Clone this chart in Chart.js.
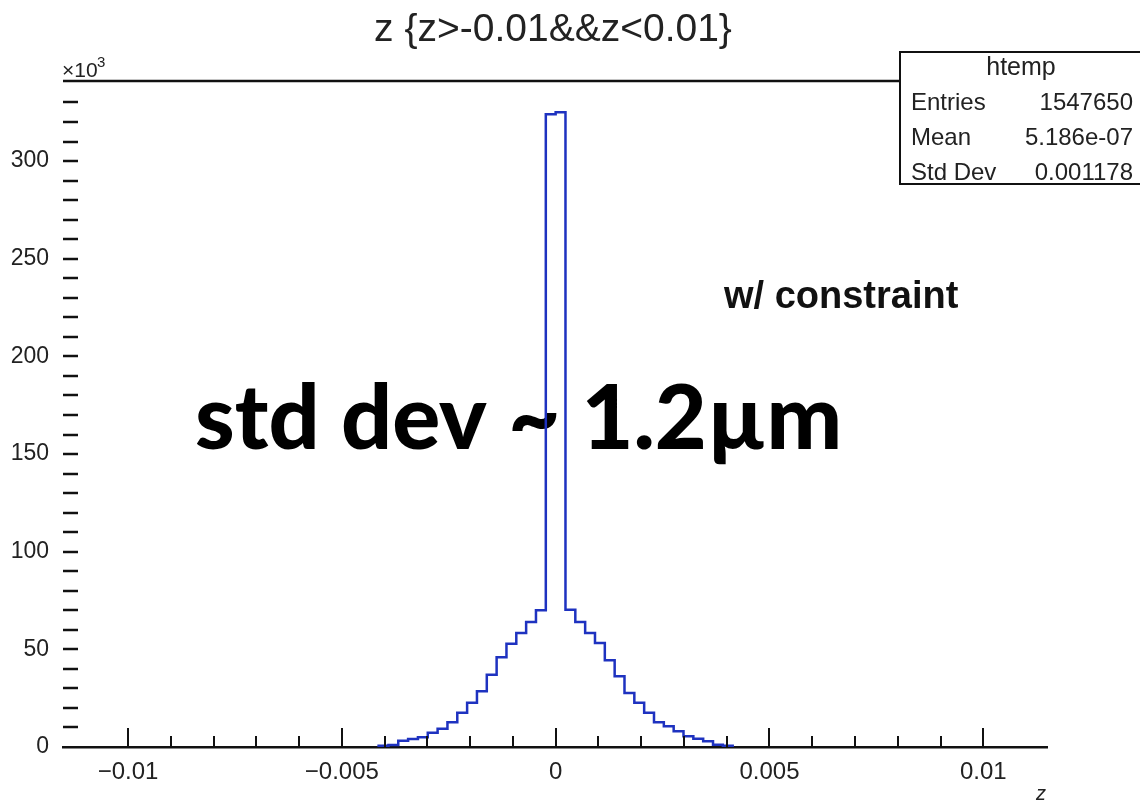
<!DOCTYPE html>
<html>
<head>
<meta charset="utf-8">
<script src="https://cdn.jsdelivr.net/npm/chart.js@4.4.1/dist/chart.umd.min.js"></script>
<style>
  html, body { margin: 0; padding: 0; background: #fff; }
</style>
</head>
<body>
<canvas id="myChart" width="1140" height="804"></canvas>
<script>
// histogram binning (z axis)
const X_MIN = -0.01152;
const X_MAX = 0.01149;
const BIN_WIDTH = 0.00023;
const FIRST_EDGE = -0.00414; // low edge of first non-empty bin

// bin contents, units of 10^3 entries, from FIRST_EDGE upward
const counts = [
  0.6, 1.0, 3.2, 4.1, 5.0, 7.3, 9.3, 12.7, 17.5, 22.6, 28.5, 37.0, 46.0, 52.9, 58.4, 64.0, 70.0, 324.0,
  325.0, 70.3, 64.0, 58.4, 53.3, 44.4, 36.2, 27.7, 22.6, 17.5, 12.7, 10.6, 8.1, 5.5, 4.2, 3.0, 1.2, 0.7,
];

const Y_MAX = 341;
const X_MAJOR = 0.005;
const X_MINOR = 0.001;
const Y_MAJOR = 50;
const Y_MINOR = 10;

const histTitle = "z {z>-0.01&&z<0.01}";
const statName = "htemp";
const statLabels = ["Entries", "Mean", "Std Dev"];
const statValues = ["1547650", "5.186e-07", "0.001178"];
const noteSmall = "w/ constraint";
const noteBig = "std dev ~ 1.2\u00b5m";

// outline of the histogram as step points
const points = [{ x: FIRST_EDGE, y: 0 }];
counts.forEach((c, i) => points.push({ x: FIRST_EDGE + i * BIN_WIDTH, y: c }));
points.push({ x: FIRST_EDGE + counts.length * BIN_WIDTH, y: 0 });

const isMult = (v, s) => Math.abs(v / s - Math.round(v / s)) < 1e-6;
const FONT = "'Liberation Sans', Arial, sans-serif";

const decor = {
  id: "decor",
  beforeDatasetsDraw(chart) {
    const ctx = chart.ctx;
    ctx.save();
    ctx.fillStyle = "#000";
    ctx.textBaseline = "alphabetic";
    ctx.textAlign = "left";
    // big note, fitted to its width in the picture
    ctx.font = "900 80px Lato";
    const w = ctx.measureText(noteBig).width;
    const size = 80 * 647 / w;
    ctx.font = "900 " + size.toFixed(1) + "px Lato";
    ctx.fillText(noteBig, 195, 449);
    ctx.font = "bold 38px " + FONT;
    ctx.fillStyle = "#111";
    ctx.fillText(noteSmall, 724, 308);
    ctx.restore();
  },
  afterDraw(chart) {
    const ctx = chart.ctx;
    const area = chart.chartArea;
    const xs = chart.scales.x;
    const ys = chart.scales.y;
    ctx.save();
    ctx.strokeStyle = "#111";
    ctx.lineWidth = 2.5;
    // y ticks, inside the frame
    ys.ticks.forEach(t => {
      if (!isMult(t.value, Y_MINOR) || t.value === 0) return;
      const py = Math.round(ys.getPixelForValue(t.value));
      ctx.beginPath();
      ctx.moveTo(area.left, py);
      ctx.lineTo(area.left + 15, py);
      ctx.stroke();
    });
    // x ticks, upward from axis
    ctx.lineWidth = 2;
    xs.ticks.forEach(t => {
      if (!isMult(t.value, X_MINOR)) return;
      const px = Math.round(xs.getPixelForValue(t.value));
      const len = isMult(t.value, X_MAJOR) ? 19 : 11;
      ctx.beginPath();
      ctx.moveTo(px, area.bottom);
      ctx.lineTo(px, area.bottom - len);
      ctx.stroke();
    });
    // top frame line
    ctx.lineWidth = 2.5;
    ctx.beginPath();
    ctx.moveTo(area.left, area.top);
    ctx.lineTo(area.right, area.top);
    ctx.stroke();

    // x10^3 label
    ctx.fillStyle = "#222";
    ctx.textAlign = "left";
    ctx.textBaseline = "alphabetic";
    ctx.font = "21px " + FONT;
    ctx.fillText("\u00d710", 62, 77);
    ctx.font = "15px " + FONT;
    ctx.fillText("3", 97, 67);

    // title
    ctx.textAlign = "center";
    ctx.textBaseline = "middle";
    ctx.font = "39px " + FONT;
    ctx.fillText(histTitle, 553, 30);

    // axis title
    ctx.textAlign = "right";
    ctx.font = "italic 20px " + FONT;
    ctx.fillText("z", 1046, 794);

    // stats box
    ctx.fillStyle = "#fff";
    ctx.fillRect(900, 52, 250, 132);
    ctx.lineWidth = 2;
    ctx.strokeStyle = "#111";
    ctx.strokeRect(900, 52, 250, 132);
    ctx.fillStyle = "#222";
    ctx.textAlign = "center";
    ctx.font = "25px " + FONT;
    ctx.fillText(statName, 1021, 68);
    ctx.font = "24px " + FONT;
    statLabels.forEach((lab, i) => {
      const yy = 103 + i * 35;
      ctx.textAlign = "left";
      ctx.fillText(lab, 911, yy);
      ctx.textAlign = "right";
      ctx.fillText(statValues[i], 1133, yy);
    });
    ctx.restore();
  },
};

const config = {
  type: "line",
  data: {
    datasets: [
      {
        label: "htemp",
        data: points,
        stepped: "before",
        borderColor: "#1e32c0",
        borderWidth: 2.5,
        pointRadius: 0,
        fill: false,
        tension: 0,
      },
    ],
  },
  options: {
    responsive: false,
    animation: false,
    devicePixelRatio: 1,
    layout: { padding: { left: 0, right: 93, top: 81, bottom: 0 } },
    plugins: {
      legend: { display: false },
      tooltip: { enabled: false },
      title: { display: false },
    },
    scales: {
      x: {
        type: "linear",
        min: X_MIN,
        max: X_MAX,
        grid: { display: false, drawTicks: false },
        border: { display: true, color: "#111", width: 2.5 },
        ticks: {
          stepSize: X_MINOR,
          autoSkip: false,
          maxRotation: 0,
          padding: 11,
          color: "#222",
          font: { family: FONT, size: 24 },
          callback: v => {
            if (!isMult(v, X_MAJOR)) return "";
            const n = Math.round(v / X_MAJOR);
            if (n === 0) return "0";
            return String(+(n * X_MAJOR).toFixed(3)).replace("-", "\u2212");
          },
        },
        afterFit: s => { s.height = 57; },
      },
      y: {
        type: "linear",
        min: 0,
        max: Y_MAX,
        grid: { display: false, drawTicks: false },
        border: { display: false },
        ticks: {
          stepSize: Y_MINOR,
          autoSkip: false,
          padding: 14,
          color: "#222",
          font: { family: FONT, size: 23 },
          callback: v => (isMult(v, Y_MAJOR) ? String(v) : ""),
        },
        afterFit: s => { s.width = 63; },
      },
    },
  },
  plugins: [decor],
};

const chart = new Chart(document.getElementById("myChart"), config);
</script>
</body>
</html>
